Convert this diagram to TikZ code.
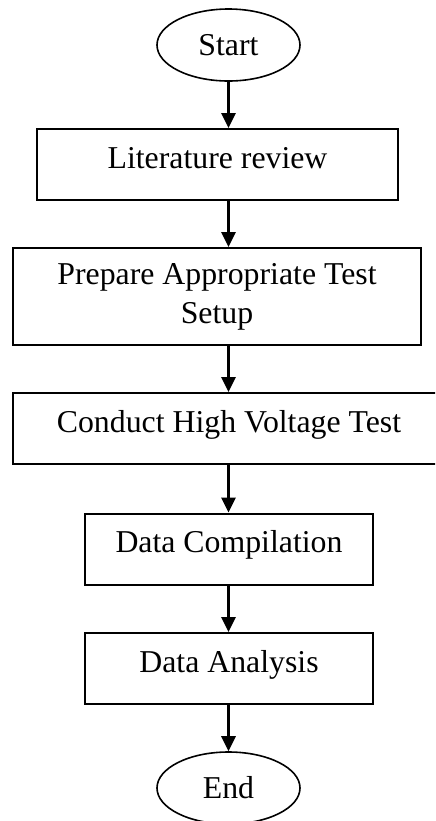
\documentclass[tikz,border=0pt]{standalone}
\usepackage{fontspec}
\setmainfont{Liberation Serif}
\usetikzlibrary{arrows.meta,shapes.geometric}
\tikzset{
	boxbase/.style={draw, line width=1pt, rectangle, inner sep=0pt, align=center},
	stepbox/.style={boxbase, text height=19.5pt, text depth=16pt},
	termnode/.style={draw, line width=0.8pt, ellipse, minimum width=71.5pt, minimum height=36pt, inner sep=0pt},
	flowarrow/.style={line width=1.5pt, -{Triangle[width=7pt,length=7.5pt]}}
}

\begin{document}
\begin{tikzpicture}[x=0.5pt, y=-0.5pt, every node/.style={font=\fontsize{15.9pt}{19.5pt}\selectfont}]
		%%%%% START %%%%%
		
		\useasboundingbox (0, 0) rectangle (435, 821);
		\clip (0, 0) rectangle (435, 821);
		
		\node[termnode] (start) at (228.5, 45) {Start};
		
		\node[stepbox, minimum width=180.5pt] (litrev) at (217.5, 164.5) {Literature review};
		\node[boxbase, minimum width=204pt, minimum height=48.5pt] (setup) at (217, 296.5) {Prepare Appropriate Test\\Setup};
		\node[stepbox, minimum width=216pt] (hvtest) at (229, 428.5) {Conduct High Voltage Test};
		\node[stepbox, minimum width=144pt] (compile) at (229, 549) {Data Compilation};
		\node[stepbox, minimum width=144pt] (analysis) at (229, 668.5) {Data Analysis};
		
		\node[termnode] (finish) at (228.5, 788) {End};
		
		\draw[flowarrow] (start.south) -- (start.south |- litrev.north);
		\draw[flowarrow] (litrev.south -| start) -- (setup.north -| start);
		\draw[flowarrow] (setup.south -| start) -- (hvtest.north -| start);
		\draw[flowarrow] (hvtest.south -| start) -- (compile.north -| start);
		\draw[flowarrow] (compile.south -| start) -- (analysis.north -| start);
		\draw[flowarrow] (analysis.south -| start) -- (finish.north);
		
		%%%%% END %%%%%
	\end{tikzpicture}
\end{document}
